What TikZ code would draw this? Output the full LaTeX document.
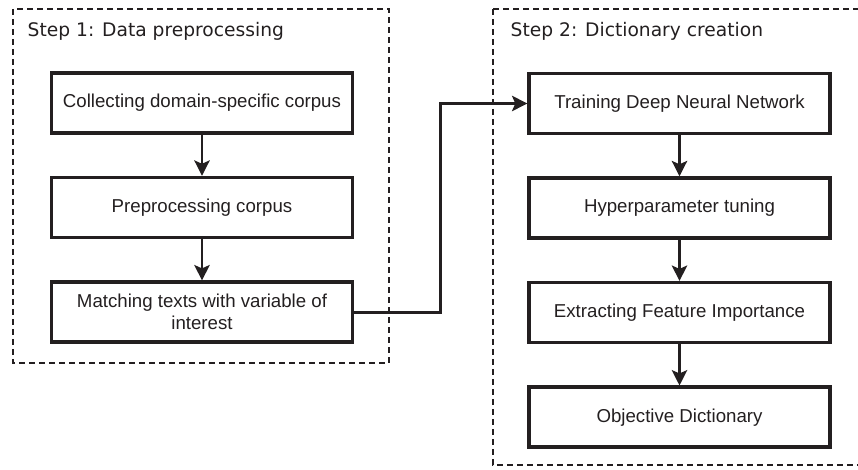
\documentclass[tikz,border=0pt]{standalone}
\usepackage{fontspec}
\setmainfont{Liberation Sans}
\newfontfamily\stepfont{DejaVu Sans}
\usetikzlibrary{calc}
\usetikzlibrary{arrows.meta,positioning}
\definecolor{ink}{RGB}{35,31,32}

\begin{document}
\begin{tikzpicture}[x=0.75pt, y=-0.75pt, font=\fontsize{14}{16.5}\selectfont, node distance=30.75pt, text=ink]
      \tikzstyle{stepbox}=[rectangle,draw=ink,line width=2.7pt,align=center,inner sep=3pt,minimum width=225.5pt,minimum height=45pt]
      \tikzstyle{frame}=[draw=ink,line width=1.3pt,dash pattern=on 4.5pt off 3pt]
      \tikzstyle{flow}=[draw=ink,line width=2.1pt,-{Stealth[length=11.5pt,width=11.5pt,inset=2.5pt]}]
      \useasboundingbox (0,0) rectangle (858,470);
      \draw[frame] (13,9) rectangle (389,363);
      \draw[frame] (493,9) rectangle (875,465);
      \node[anchor=west,font=\stepfont\fontsize{14}{16.5}\selectfont] (title1) at (23,31) {Step 1: Data preprocessing};
      \node[anchor=west,font=\stepfont\fontsize{14}{16.5}\selectfont] (title2) at (506,31) {Step 2: Dictionary creation};
      \node[stepbox] (collect) at (202,103) {Collecting domain-specific corpus};
      \node[stepbox,below=of collect] (prep) {Preprocessing corpus};
      \node[stepbox,below=of prep] (match) {Matching texts with variable of\\interest};
      \node[stepbox] (train) at (679.5,103.5) {Training Deep Neural Network};
      \node[stepbox,below=of train] (tune) {Hyperparameter tuning};
      \node[stepbox,below=of tune] (extract) {Extracting Feature Importance};
      \node[stepbox,below=of extract] (dict) {Objective Dictionary};
      \draw[flow] (collect) -- (prep);
      \draw[flow] (prep) -- (match);
      \coordinate (bend) at ($(match.east)!0.5!(train.west)$);
      \draw[flow] (match.east) -| (bend) |- (train.west);
      \draw[flow] (train) -- (tune);
      \draw[flow] (tune) -- (extract);
      \draw[flow] (extract) -- (dict);

    \end{tikzpicture}
\end{document}
